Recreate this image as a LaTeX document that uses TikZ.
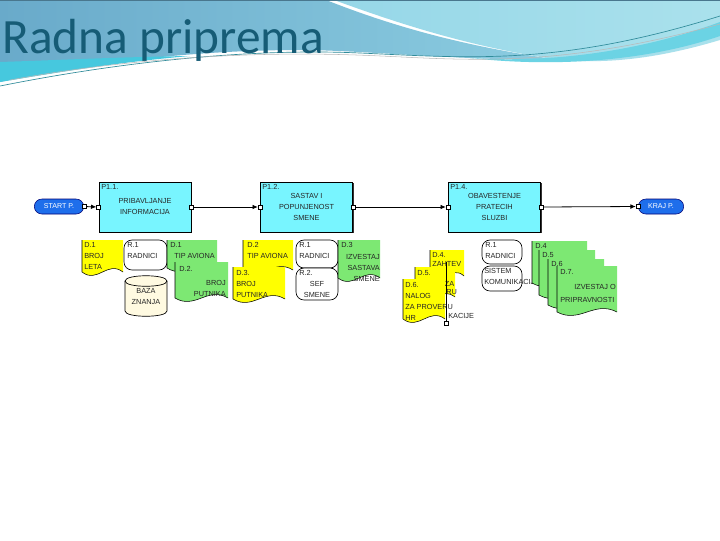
\documentclass[tikz,border=0pt]{standalone}
\usepackage{fontspec}
\setmainfont{Liberation Sans}
\newfontfamily\titlefont{Carlito}
\usetikzlibrary{shapes.geometric,shapes.misc,arrows.meta,shadows}

\definecolor{proccyan}{RGB}{120,245,255}
\definecolor{docyel}{RGB}{255,255,0}
\definecolor{docgrn}{RGB}{125,232,115}
\definecolor{capblue}{RGB}{30,110,235}
\definecolor{titleteal}{RGB}{22,92,118}
\definecolor{bazacream}{RGB}{255,250,225}
\definecolor{hdrA}{RGB}{105,170,202}
\definecolor{hdrB}{RGB}{140,205,225}
\definecolor{hdrC}{RGB}{150,215,232}
\definecolor{hdrD}{RGB}{170,225,236}
\definecolor{hdrCyan}{RGB}{70,200,222}

\tikzset{
  lbl/.style={font=\fontsize{5.5}{8.25}\selectfont, text=black!85, inner sep=0pt, align=left},
  proc/.style={draw=black, line width=0.6pt, fill=proccyan, minimum width=69pt, minimum height=37.5pt, inner sep=0pt,
    drop shadow={shadow xshift=0.9pt, shadow yshift=-0.9pt, fill=black!80, opacity=1}},
  capsule/.style={rounded rectangle, draw=blue!45!black, fill=capblue, minimum height=11.25pt, inner sep=1pt,
    font=\fontsize{5.3}{6}\selectfont, text=white},
  port/.style={draw=black, fill=white, minimum size=3pt, inner sep=0pt, line width=0.4pt},
  flow/.style={line width=0.6pt, -{Latex[length=4pt,width=3.5pt]}},
  res/.style={draw=black, fill=white, rounded corners=6pt, line width=0.5pt},
  docline/.style={draw=black, line width=0.4pt},
  pics/docu/.style n args={3}{code={
    \fill[#3] (0,0) -- (#1,0) -- (#1,#2) .. controls ({0.62*#1},{#2-12}) and ({0.38*#1},{#2+12}) .. (0,#2) -- cycle;
    \draw[docline] (0,0) -- (0,#2) .. controls ({0.38*#1},{#2+12}) and ({0.62*#1},{#2-12}) .. (#1,#2);
  }},
}

\begin{document}
\begin{tikzpicture}[x=0.75pt,y=-0.75pt]
\useasboundingbox (0,0) rectangle (720,540);
\fill[white] (0,0) rectangle (720,540);

% ---------- header ----------
\shade[left color=hdrA, right color=hdrB] (0,0) -- (326,0) .. controls (392,26) and (462,46) .. (560,60)
  .. controls (450,60) and (360,50) .. (300,50) .. controls (200,50) and (90,62) .. (0,82) -- cycle;
\shade[left color=hdrC, right color=hdrD] (334,0) -- (720,0) -- (720,40) .. controls (660,58) and (610,64) .. (560,60)
  .. controls (470,47) and (400,24) .. (334,0) -- cycle;
\fill[hdrCyan] (0,62) .. controls (60,60) and (120,57) .. (190,56) .. controls (120,62) and (60,72) .. (0,82) -- cycle;
\fill[hdrCyan!80!white] (470,58) .. controls (560,64) and (650,48) .. (720,22) -- (720,36) .. controls (650,60) and (560,68) .. (470,58) -- cycle;
\draw[hdrCyan!70!black, line width=0.5pt] (0,86) .. controls (120,62) and (250,48) .. (360,53) .. controls (470,58) and (560,66) .. (720,16);
\draw[gray!55, line width=0.4pt] (10,80) .. controls (130,58) and (260,50) .. (380,56) .. controls (470,60) and (560,68) .. (720,24);
\draw[white, line width=0.8pt] (20,84) .. controls (140,60) and (270,53) .. (400,58);
\draw[hdrA!70!black, line width=0.8pt] (0,0.5) -- (720,0.5);
\node[anchor=base west, inner sep=0pt, font=\titlefont\fontsize{37}{40}\selectfont, text=titleteal] (title) at (2,53) {Radna priprema};

% ---------- main flow ----------
\node[capsule, minimum width=39pt] (start) at (59,206.5) {START P.};
\node[capsule, minimum width=36pt] (kraj) at (661,206.5) {KRAJ P.};
\node[proc] (p11) at (145,207) {};
\node[proc] (p12) at (306.5,207) {};
\node[proc] (p14) at (494.5,207) {};

\node[lbl, anchor=north west] (p11l) at (101,184) {P1.1.};
\node[lbl, anchor=north west] (p12l) at (262,184) {P1.2.};
\node[lbl, anchor=north west] (p14l) at (450,184) {P1.4.};
\node[lbl, align=center] (p11t) at (145,207) {PRIBAVLJANJE\\INFORMACIJA};
\node[lbl, align=center] (p12t) at (306.5,207) {SASTAV I\\POPUNJENOST\\SMENE};
\node[lbl, align=center] (p14t) at (494.5,207) {OBAVESTENJE\\PRATECIH\\SLUZBI};

\node[port] (so) at (start.east) {};
\node[port] (p11i) at (p11.west) {};
\node[port] (p11o) at (p11.east) {};
\node[port] (p12i) at (p12.west) {};
\node[port] (p12o) at (p12.east) {};
\node[port] (p14i) at (p14.west) {};
\node[port] (p14o) at (p14.east) {};
\node[port] (ki) at (kraj.west) {};
\draw[flow] (so) -- (p11i);
\draw[flow] (p11o) -- (p12i);
\draw[flow] (p12o) -- (p14i);
\draw[flow] (p14o) -- (ki);

% ---------- P1.1 resources ----------
\pic at (82,240) {docu={41}{32}{docyel}};
\node[lbl, anchor=north west] (yd1) at (84,242) {D.1\\BROJ\\LETA};
\draw[res] (124,240) rectangle (167,270);
\node[lbl, anchor=north west] (r1a) at (127,242) {R.1\\RADNICI};
\fill[bazacream, draw=black, line width=0.5pt] (125,281) -- (125,311) .. controls (125,318) and (167,318) .. (167,311)
  -- (167,281) .. controls (167,274) and (125,274) .. (125,281) -- cycle;
\draw[line width=0.5pt] (125,281) .. controls (125,288) and (167,288) .. (167,281);
\node[lbl, align=center] (baza) at (146,297) {BAZA\\ZNANJA};
\pic at (167,240) {docu={50}{28}{docgrn}};
\node[lbl, anchor=north west] (gd1) at (170,242) {D.1\\\hspace*{3pt}TIP AVIONA};
\pic at (175,262) {docu={53}{36}{docgrn}};
\node[lbl, anchor=north west] (gd2a) at (179,266) {D.2.};
\node[lbl, anchor=north east, align=right] (gd2b) at (226,280) {BROJ\\PUTNIKA};

% ---------- P1.2 resources ----------
\pic at (243,240) {docu={50}{30}{docyel}};
\node[lbl, anchor=north west] (yd2) at (247,242) {D.2\\TIP AVIONA};
\pic at (233,267) {docu={52}{32}{docyel}};
\node[lbl, anchor=north west] (yd3) at (236,270) {D.3.\\BROJ\\PUTNIKA};
\draw[res] (296,240) rectangle (338,268);
\node[lbl, anchor=north west] (r1b) at (299,242) {R.1\\RADNICI};
\draw[res] (296,268) rectangle (338,300);
\node[lbl, anchor=north west] (r2b) at (299,270) {R.2.};
\node[lbl, align=center] (r2bt) at (317,289) {SEF\\SMENE};
\pic at (338,240) {docu={42}{38}{docgrn}};
\node[lbl, anchor=north west] (gd3a) at (341,242) {D.3};
\node[lbl, anchor=north east, align=right] (gd3b) at (380,254) {IZVESTAJ\\SASTAVA\\SMENE};

% ---------- P1.4 resources ----------
\pic at (430,250) {docu={34}{26}{docyel}};
\node[lbl, anchor=north west, font=\fontsize{5.5}{7}\selectfont] (yd4) at (432,252) {D.4.\\ZAHTEV};
\pic at (415,267) {docu={40}{30}{docyel}};
\node[lbl, anchor=north west] (yd5) at (417,270) {D.5.\\NALOG ZA};
\node[lbl, anchor=north west] (yd5b) at (446,289) {RU};
\node[lbl, anchor=north west] (yd5c) at (448,313) {KACIJE};
\pic at (403,279) {docu={42}{40}{docyel}};
\node[lbl, anchor=north west] (yd6) at (405,282) {D.6.\\NALOG\\ZA PROVERU\\HR};
\node[port] (hsq) at (446,323) {};
\coordinate (htop) at (446,262);
\draw[line width=0.4pt] (htop) -- (hsq);

\draw[res] (482,240) rectangle (522,264);
\node[lbl, anchor=north west] (r1c) at (485,242) {R.1\\RADNICI};
\draw[res] (482,266) rectangle (522,291);
\node[lbl, anchor=north west] (r2c) at (484,268) {SISTEM\\KOMUNIKACIJE};

\pic at (532,241) {docu={55}{42}{docgrn}};
\node[lbl, anchor=north west] (gd4) at (535,243) {D.4};
\pic at (539,250) {docu={56}{45}{docgrn}};
\node[lbl, anchor=north west] (gd5) at (542,252) {D.5};
\pic at (548,259) {docu={56}{46}{docgrn}};
\node[lbl, anchor=north west] (gd6) at (551,261) {D.6};
\pic at (557,266) {docu={60}{46}{docgrn}};
\node[lbl, anchor=north west] (gd7) at (560,269) {D.7.};
\node[lbl, anchor=north east] (gd7b) at (616,284) {IZVESTAJ O};
\node[lbl, anchor=north west] (gd7c) at (560,297) {PRIPRAVNOSTI};
\end{tikzpicture}
\end{document}
